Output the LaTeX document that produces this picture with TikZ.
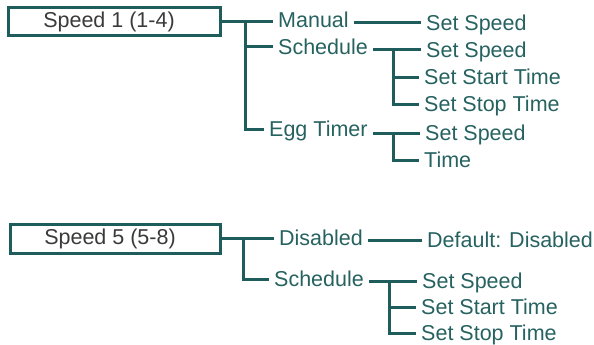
\documentclass[tikz,border=0pt]{standalone}
\usepackage{fontspec}
\setmainfont{Liberation Sans}
\definecolor{menuline}{RGB}{31,92,92}
\definecolor{menutext}{RGB}{38,98,96}
\definecolor{boxtext}{RGB}{58,58,58}
\tikzset{
	topbox/.style={draw=menuline, line width=3pt, text=boxtext, minimum height=28pt, inner sep=0pt},
	item/.style={anchor=west, text=menutext, inner xsep=5pt, inner ysep=0pt, text height=15pt, text depth=0pt},
	link/.style={draw=menuline, line width=3pt}
}
\begin{document}
\begin{tikzpicture}[x=1pt, y=-1pt, font=\fontsize{21.5}{25}\selectfont]
				\useasboundingbox (0,0) rectangle (594,345);
				
				% speed 1
				\node[topbox, minimum width=212pt] (s1) at (114,22) {Speed 1 (1-4)\hspace*{10pt}};
				\node[item] (man) at (273,20) {Manual};
				\node[item] (sch) at (273,47) {Schedule};
				\node[item] (egg) at (264,129) {Egg Timer};
				\node[item] (ssa) at (421,23) {Set Speed};
				\node[item] (ssb) at (421,50) {Set Speed};
				\node[item] (sta) at (419,77) {Set Start Time};
				\node[item] (spa) at (419,104) {Set Stop Time};
				\node[item] (ssc) at (420,133) {Set Speed};
				\node[item] (tim) at (419,160) {Time};
				
				\coordinate (t1) at (245,22);
				\coordinate (j1) at (393,50);
				\coordinate (j2) at (393,133);
				
				\draw[link] (s1.east) -- (s1.east -| man.west);
				\draw[link] (t1) |- (sch.west);
				\draw[link] (t1) |- (egg.west);
				\draw[link] (man.east |- ssa) -- (ssa.west);
				\draw[link] (sch.east |- ssb) -- (ssb.west);
				\draw[link] (j1) |- (sta.west);
				\draw[link] (j1) |- (spa.west);
				\draw[link] (egg.east |- ssc) -- (ssc.west);
				\draw[link] (j2) |- (tim.west);
				
				% speed 5
				\node[topbox, minimum width=210pt, minimum height=29pt] (s5) at (115,238.5) {Speed 5 (5-8)\hspace*{10pt}};
				\node[item] (dis) at (274,238) {Disabled};
				\node[item] (scb) at (269,279) {Schedule};
				\node[item] (def) at (422,240) {Default: Disabled};
				\node[item] (ssd) at (417,281) {Set Speed};
				\node[item] (stb) at (416,307) {Set Start Time};
				\node[item] (spb) at (416,333) {Set Stop Time};
				
				\coordinate (t2) at (243,239);
				\coordinate (j3) at (389,281);
				
				\draw[link] (s5.east) -- (s5.east -| dis.west);
				\draw[link] (t2) |- (scb.west);
				\draw[link] (dis.east |- def) -- (def.west);
				\draw[link] (scb.east |- ssd) -- (ssd.west);
				\draw[link] (j3) |- (stb.west);
				\draw[link] (j3) |- (spb.west);
			\end{tikzpicture}
\end{document}
